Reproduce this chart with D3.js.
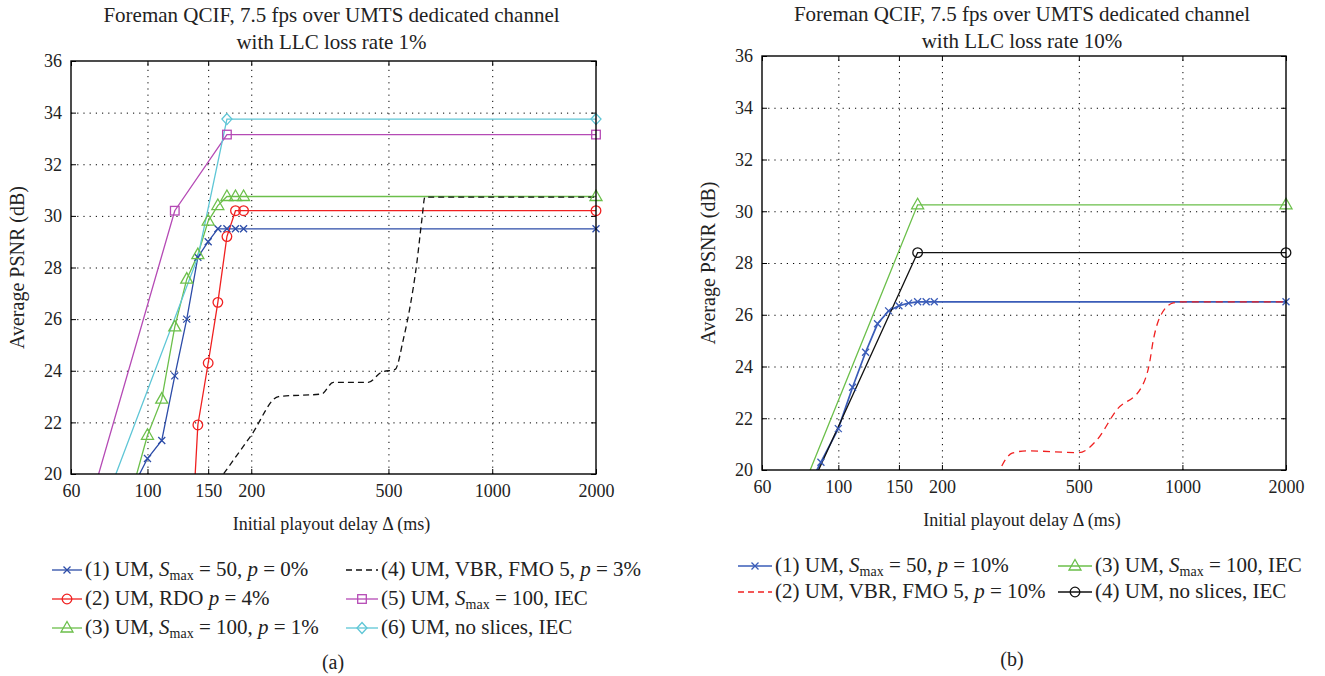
<!DOCTYPE html>
<html>
<head>
<meta charset="utf-8">
<title>Foreman QCIF PSNR vs playout delay</title>
<script src="https://d3js.org/d3.v7.min.js"></script>
<style>
  body, html { margin: 0; padding: 0; background: #fff; }
  svg { display: block; font-family: "Liberation Serif", "DejaVu Serif", serif; }
  .grid line { stroke: #000; stroke-dasharray: 1.2,5; stroke-width: 1; }
  .grid .domain { display: none; }
  .ax .domain { display: none; }
  .ax line { stroke: #000; stroke-width: 1; }
  .ax text { font-size: 18px; fill: #222; font-family: "Liberation Serif", serif; }
</style>
</head>
<body>
<svg width="1325" height="676"></svg>
<script>
// axis ticks
const xTicks = [60, 100, 150, 200, 500, 1000, 2000];
const yTicks = [20, 22, 24, 26, 28, 30, 32, 34, 36];

// (a) LLC loss rate 1%
const a1Delay = [90, 100, 110, 120, 130, 140, 150, 160, 170, 180, 190, 2000];
const a1Psnr  = [19.4, 20.6, 21.3, 23.8, 26.0, 28.4, 29.0, 29.5, 29.5, 29.5, 29.5, 29.5];
const a2Delay = [130, 140, 150, 160, 170, 180, 190, 2000];
const a2Psnr  = [14.0, 21.9, 24.3, 26.65, 29.2, 30.2, 30.2, 30.2];
const a3Delay = [90, 100, 110, 120, 130, 140, 150, 160, 170, 180, 190, 2000];
const a3Psnr  = [19.3, 21.5, 22.9, 25.7, 27.55, 28.5, 29.8, 30.4, 30.75, 30.75, 30.75, 30.75];
const a4Delay = [160, 200, 240, 320, 346, 437, 478, 523, 552, 578, 604, 625, 638, 2000];
const a4Psnr  = [19.7, 21.5, 23.0, 23.1, 23.55, 23.55, 23.95, 24.05, 25.2, 26.5, 28.15, 29.85, 30.73, 30.73];
const a5Delay = [60, 120, 170, 2000];
const a5Psnr  = [16.3, 30.2, 33.15, 33.15];
const a6Delay = [60, 140, 170, 2000];
const a6Psnr  = [15.4, 28.4, 33.75, 33.75];

// (b) LLC loss rate 10%
const b1Delay = [80, 89, 100, 110, 120, 130, 140, 150, 160, 170, 180, 190, 2000];
const b1Psnr  = [19.1, 20.3, 21.6, 23.2, 24.55, 25.65, 26.15, 26.35, 26.45, 26.5, 26.5, 26.5, 26.5];
const b2Delay = [280, 320, 353, 500, 564, 644, 762, 802, 823, 861, 941, 1000, 2000];
const b2Psnr  = [19.3, 20.65, 20.74, 20.67, 21.16, 22.32, 23.22, 24.12, 25.02, 25.92, 26.46, 26.5, 26.5];
const b3Delay = [60, 170, 2000];
const b3Psnr  = [15.4, 30.25, 30.25];
const b4Delay = [60, 170, 2000];
const b4Psnr  = [15.2, 28.4, 28.4];

const seriesA = [
  {delay: a1Delay, psnr: a1Psnr, color: "#2c4ca8", mark: "x", label: "(1) UM, *S*~max~ = 50, *p* = 0%"},
  {delay: a2Delay, psnr: a2Psnr, color: "#f02020", mark: "o", label: "(2) UM, RDO *p* = 4%"},
  {delay: a3Delay, psnr: a3Psnr, color: "#6bbf4a", mark: "^", label: "(3) UM, *S*~max~ = 100, *p* = 1%"},
  {delay: a4Delay, psnr: a4Psnr, color: "#111", mark: null, dash: "6,4", label: "(4) UM, VBR, FMO 5, *p* = 3%"},
  {delay: a5Delay, psnr: a5Psnr, color: "#b54ab5", mark: "s", markAt: [120, 170, 2000], label: "(5) UM, *S*~max~ = 100, IEC"},
  {delay: a6Delay, psnr: a6Psnr, color: "#5ec6d6", mark: "d", markAt: [170, 2000], label: "(6) UM, no slices, IEC"}
];
const seriesB = [
  {delay: b1Delay, psnr: b1Psnr, color: "#3a5cb8", mark: "x", width: 1.7, label: "(1) UM, *S*~max~ = 50, *p* = 10%"},
  {delay: b2Delay, psnr: b2Psnr, color: "#f02020", mark: null, dash: "7,5", label: "(2) UM, VBR, FMO 5, *p* = 10%"},
  {delay: b3Delay, psnr: b3Psnr, color: "#6bbf4a", mark: "^", markAt: [170, 2000], label: "(3) UM, *S*~max~ = 100, IEC"},
  {delay: b4Delay, psnr: b4Psnr, color: "#111", mark: "o", markAt: [170, 2000], label: "(4) UM, no slices, IEC"}
];

const svg = d3.select("svg");

function drawMarker(g, type, cx, cy, color) {
  if (type === "x") {
    g.append("path").attr("d", `M${cx-3.5},${cy-3.5}L${cx+3.5},${cy+3.5}M${cx-3.5},${cy+3.5}L${cx+3.5},${cy-3.5}`)
      .attr("stroke", color).attr("stroke-width", 1.3).attr("fill", "none");
  } else if (type === "o") {
    g.append("circle").attr("cx", cx).attr("cy", cy).attr("r", 4.8)
      .attr("stroke", color).attr("stroke-width", 1.3).attr("fill", "none");
  } else if (type === "^") {
    g.append("path").attr("d", `M${cx},${cy-6.5}L${cx+6},${cy+4}L${cx-6},${cy+4}Z`)
      .attr("stroke", color).attr("stroke-width", 1.3).attr("fill", "none");
  } else if (type === "s") {
    g.append("rect").attr("x", cx - 4.3).attr("y", cy - 4.3).attr("width", 8.6).attr("height", 8.6)
      .attr("stroke", color).attr("stroke-width", 1.3).attr("fill", "none");
  } else if (type === "d") {
    g.append("path").attr("d", `M${cx},${cy-5.5}L${cx+5},${cy}L${cx},${cy+5.5}L${cx-5},${cy}Z`)
      .attr("stroke", color).attr("stroke-width", 1.3).attr("fill", "none");
  }
}

// *x* = italic, ~x~ = subscript
function rich(text, str) {
  const parts = str.split(/(\*[^*]+\*|~[^~]+~)/).filter(s => s.length);
  let down = false;
  parts.forEach(p => {
    const t = text.append("tspan");
    if (p[0] === "~") {
      t.text(p.slice(1, -1)).attr("font-size", 14).attr("dy", 4);
      down = true;
      return;
    }
    if (p[0] === "*") t.text(p.slice(1, -1)).attr("font-style", "italic");
    else t.text(p);
    if (down) { t.attr("dy", -4); down = false; }
  });
}

function panel(cfg, series) {
  const x = d3.scaleLog().domain([60, 2000]).range([cfg.x0, cfg.x1]);
  const y = d3.scaleLinear().domain([20, 36]).range([cfg.y1, cfg.y0]);
  const h = cfg.y1 - cfg.y0, w = cfg.x1 - cfg.x0;
  const g = svg.append("g");

  // dotted grid
  g.append("g").attr("class", "grid").attr("transform", `translate(0,${cfg.y1})`)
    .call(d3.axisBottom(x).tickValues(xTicks.slice(1, -1)).tickSize(-h).tickFormat(""));
  g.append("g").attr("class", "grid").attr("transform", `translate(${cfg.x0},0)`)
    .call(d3.axisLeft(y).tickValues(yTicks.slice(1, -1)).tickSize(-w).tickFormat(""));

  // axes with inward ticks
  g.append("g").attr("class", "ax").attr("transform", `translate(0,${cfg.y1})`)
    .call(d3.axisBottom(x).tickValues(xTicks).tickSize(-5).tickSizeOuter(0).tickPadding(10).tickFormat(d3.format("d")));
  g.append("g").attr("class", "ax").attr("transform", `translate(0,${cfg.y0})`)
    .call(d3.axisTop(x).tickValues(xTicks).tickSize(-5).tickSizeOuter(0).tickFormat(""));
  g.append("g").attr("class", "ax").attr("transform", `translate(${cfg.x0},0)`)
    .call(d3.axisLeft(y).tickValues(yTicks).tickSize(-5).tickSizeOuter(0).tickPadding(9));
  g.append("g").attr("class", "ax").attr("transform", `translate(${cfg.x1},0)`)
    .call(d3.axisRight(y).tickValues(yTicks).tickSize(-5).tickSizeOuter(0).tickFormat(""));
  g.selectAll(".ax").attr("font-family", null).attr("font-size", null);

  const clipId = "clip" + cfg.id;
  svg.append("clipPath").attr("id", clipId).append("rect")
    .attr("x", cfg.x0).attr("y", cfg.y0).attr("width", w).attr("height", h);

  const lines = g.append("g").attr("clip-path", `url(#${clipId})`);
  const marks = g.append("g");
  series.forEach(s => {
    const pts = s.delay.map((d, i) => [d, s.psnr[i]]);
    const line = d3.line().x(d => x(d[0])).y(d => y(d[1]))
      .curve(s.dash ? d3.curveMonotoneX : d3.curveLinear);
    lines.append("path").attr("d", line(pts)).attr("fill", "none")
      .attr("stroke", s.color).attr("stroke-width", s.width || 1.3)
      .attr("stroke-dasharray", s.dash || null);
    if (s.mark) {
      pts.filter(p => p[1] >= 20 && (!s.markAt || s.markAt.includes(p[0])))
        .forEach(p => drawMarker(marks, s.mark, x(p[0]), y(p[1]), s.color));
    }
  });

  g.append("rect").attr("x", cfg.x0).attr("y", cfg.y0).attr("width", w).attr("height", h)
    .attr("fill", "none").attr("stroke", "#000").attr("stroke-width", 1.4);

  // titles and labels
  const cx = (cfg.x0 + cfg.x1) / 2 - 2;
  cfg.title.forEach((t, i) => {
    svg.append("text").attr("x", cx).attr("y", cfg.titleY + i * 27).attr("text-anchor", "middle")
      .attr("font-size", 21).attr("fill", "#222").text(t);
  });
  svg.append("text").attr("x", cx).attr("y", cfg.y1 + 56).attr("text-anchor", "middle")
    .attr("font-size", 18).attr("fill", "#222").text("Initial playout delay Δ (ms)");
  svg.append("text").attr("transform", `translate(${cfg.x0 - 47},${(cfg.y0 + cfg.y1) / 2}) rotate(-90)`)
    .attr("text-anchor", "middle").attr("font-size", 20).attr("fill", "#222").text("Average PSNR (dB)");

  // legend
  series.forEach((s, i) => {
    const col = cfg.legend.cols[Math.floor(i / cfg.legend.rows)];
    const ry = cfg.legend.y + (i % cfg.legend.rows) * cfg.legend.dy;
    const lg = svg.append("g");
    lg.append("line").attr("x1", col[0]).attr("x2", col[0] + col[1]).attr("y1", ry).attr("y2", ry)
      .attr("stroke", s.color).attr("stroke-width", s.width || 1.3)
      .attr("stroke-dasharray", s.dash ? "6,4" : null);
    if (s.mark) drawMarker(lg, s.mark, col[0] + col[1] / 2, ry, s.color);
    const t = lg.append("text").attr("x", col[0] + col[1] + 3).attr("y", ry + 6)
      .attr("font-size", 21).attr("fill", "#222");
    rich(t, s.label);
  });
  svg.append("text").attr("x", cfg.tag[0]).attr("y", cfg.tag[1]).attr("text-anchor", "middle")
    .attr("font-size", 20).attr("fill", "#222").text(cfg.tag[2]);
}

panel({
  id: "a", x0: 71, x1: 596, y0: 61, y1: 474, titleY: 22,
  title: ["Foreman QCIF, 7.5 fps over UMTS dedicated channel", "with LLC loss rate 1%"],
  legend: {rows: 3, y: 570, dy: 29, cols: [[52, 30], [346, 32]]},
  tag: [333, 669, "(a)"]
}, seriesA);

panel({
  id: "b", x0: 762, x1: 1286, y0: 56, y1: 470, titleY: 21,
  title: ["Foreman QCIF, 7.5 fps over UMTS dedicated channel", "with LLC loss rate 10%"],
  legend: {rows: 2, y: 566, dy: 26, cols: [[738, 34], [1058, 34]]},
  tag: [1012, 666, "(b)"]
}, seriesB);
</script>
</body>
</html>
